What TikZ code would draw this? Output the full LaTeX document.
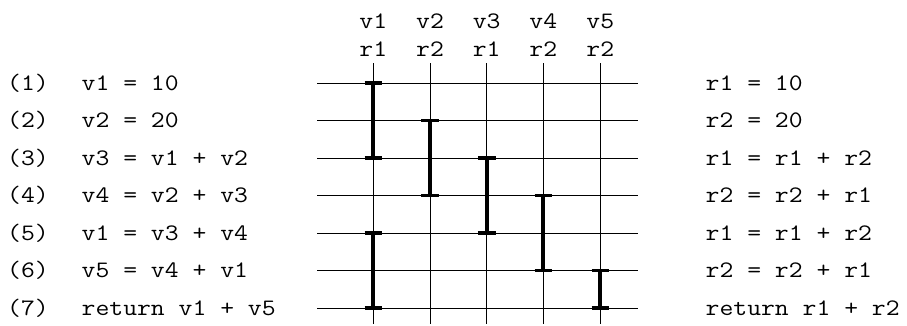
\documentclass[tikz,border=0pt]{standalone}
\usepackage{fontspec}
\usepackage{graphicx}
\newcommand\lifespan[3]{%
  \coordinate (ls-a) at (ct#1 |- rl#2);
  \coordinate (ls-b) at (ct#1 |- rl#3);
  \draw[live] (ls-a) -- (ls-b);
  \draw[capline] ([xshift=-8.8pt]ls-a) -- ([xshift=8.8pt]ls-a);
  \draw[capline] ([xshift=-8.8pt]ls-b) -- ([xshift=8.8pt]ls-b);
}
\newcommand\cw[1]{\scalebox{1.14}[1]{#1}}
\begin{document}
\begin{tikzpicture}[x=1pt,y=-1pt,
  txt/.style={font=\ttfamily\fontsize{23.6}{28}\selectfont, inner sep=0pt, anchor=base west},
  hdr/.style={txt, anchor=base},
  gridline/.style={line width=0.9pt, black},
  live/.style={line width=4pt, black},
  capline/.style={line width=3.3pt, black}]
\useasboundingbox (0,0) rectangle (907,325);
% columns
\foreach \i/\x/\v/\r in {1/373.3/v1/r1, 2/430/v2/r2, 3/486.7/v3/r1, 4/543.3/v4/r2, 5/600.3/v5/r2} {
  \coordinate (ct\i) at (\x,63);
  \coordinate (cb\i) at (\x,324);
  \draw[gridline] (ct\i) -- (cb\i);
  \node[hdr] (hv\i) at (\x,28) {\cw{\v}};
  \node[hdr] (hr\i) at (\x,56) {\cw{\r}};
}
% rows
\foreach \k/\y/\n/\s/\t in {
  1/83/(1)/{v1 = 10}/{r1 = 10},
  2/120.5/(2)/{v2 = 20}/{r2 = 20},
  3/158/(3)/{v3 = v1 + v2}/{r1 = r1 + r2},
  4/195.5/(4)/{v4 = v2 + v3}/{r2 = r2 + r1},
  5/233/(5)/{v1 = v3 + v4}/{r1 = r1 + r2},
  6/270.5/(6)/{v5 = v4 + v1}/{r2 = r2 + r1},
  7/308/(7)/{return v1 + v5}/{return r1 + r2}} {
  \coordinate (rl\k) at (317,\y);
  \coordinate (rr\k) at (638,\y);
  \draw[gridline] (rl\k) -- (rr\k);
  \node[txt] (num\k) at (7,\y+7) {\cw{\n}};
  \node[txt] (src\k) at (81.5,\y+7) {\cw{\s}};
  \node[txt] (dst\k) at (705.5,\y+7) {\cw{\t}};
}
% live ranges
\lifespan{1}{1}{3}
\lifespan{2}{2}{4}
\lifespan{3}{3}{5}
\lifespan{4}{4}{6}
\lifespan{1}{5}{7}
\lifespan{5}{6}{7}
\end{tikzpicture}
\end{document}
